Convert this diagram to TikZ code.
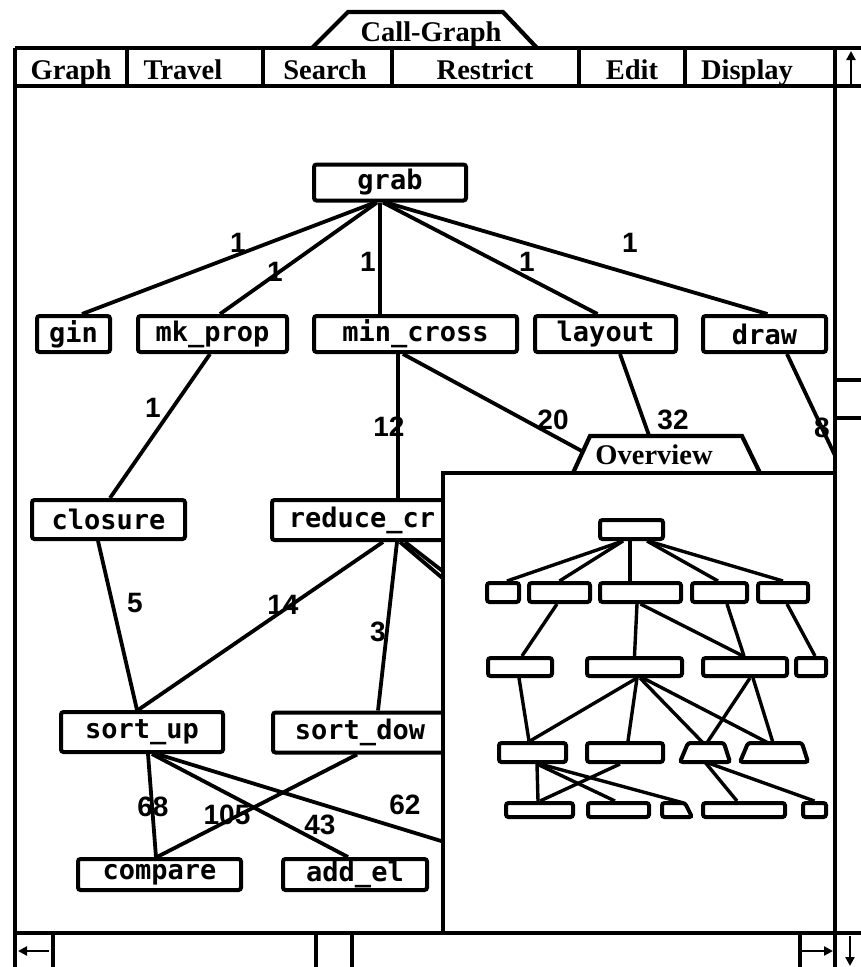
\documentclass[tikz,border=0pt]{standalone}
\usepackage{fontspec}
\setmainfont{Liberation Serif}
\newfontfamily\fnfont{DejaVu Sans Mono}
\newfontfamily\numfont{Liberation Sans}
\usetikzlibrary{arrows.meta}

\begin{document}
\begin{tikzpicture}[x=1pt,y=-1pt,
  frame/.style={line width=4.2pt},
  menutext/.style={anchor=base,inner sep=0pt,font=\bfseries\fontsize{28.5pt}{30pt}\selectfont},
  fn/.style={draw,fill=white,line width=4pt,rounded corners=2.5pt,inner sep=0pt,
    minimum height=36pt,font=\fnfont\bfseries\fontsize{27pt}{29pt}\selectfont},
  cnt/.style={inner sep=0pt,font=\numfont\bfseries\fontsize{28pt}{30pt}\selectfont},
  call/.style={line width=3.8pt},
  mini/.style={draw,fill=white,line width=4pt,rounded corners=2.5pt,inner sep=0pt,minimum height=19pt},
  minislot/.style={inner sep=0pt,minimum height=19pt},
  minishape/.style={draw,fill=white,line width=4pt,rounded corners=2.5pt},
  minicall/.style={line width=3.4pt}]

\useasboundingbox (0,0) rectangle (861,967);
\fill[white] (0,0) rectangle (861,967);

% ---------------- call graph (clipped to the window) ----------------
\begin{scope}
\clip (15,86) rectangle (835,933);

\node[fn,minimum width=152pt] (grab) at (390,182.5) {grab};

\node[fn,minimum width=73pt]  (gin)      at (73.5,334)  {gin};
\node[fn,minimum width=149pt] (mkprop)   at (212.5,334) {mk\_prop};
\node[fn,minimum width=203pt] (mincross) at (415.5,334) {min\_cross};
\node[fn,minimum width=141pt] (layout)   at (605.5,334) {layout};
\node[fn,minimum width=123pt] (drawfn)   at (764.5,334) {draw};

\node[fn,minimum width=153pt,minimum height=39pt] (closure)  at (108.5,519.5) {closure};
\node[fn,minimum width=180pt,minimum height=40pt] (reducecr) at (362,520) {reduce\_cr};

\node[fn,minimum width=162pt,minimum height=40pt] (sortup)  at (142,732) {sort\_up};
\node[fn,minimum width=174pt,minimum height=40pt] (sortdow) at (360,732.5) {sort\_dow};

\node[fn,minimum width=163pt,minimum height=31pt] (compare) at (159.5,874.5) {compare};
\node[fn,minimum width=144pt,minimum height=31pt] (addel)   at (355,874.5) {add\_el};

% callees lying under the overview window
\coordinate (hidC) at (672,500);
\coordinate (hidD) at (856,500);
\coordinate (hidE) at (600,712);
\coordinate (hidF) at (625,712);
\coordinate (hidG) at (500,859);

\draw[call] ([xshift=-15pt]grab.south) -- ([xshift=8.5pt]gin.north);
\draw[call] ([xshift=-13pt]grab.south) -- ([xshift=7.5pt]mkprop.north);
\draw[call] ([xshift=-10pt]grab.south) -- ([xshift=-35.5pt]mincross.north);
\draw[call] ([xshift=-7pt]grab.south)  -- ([xshift=-8pt]layout.north);
\draw[call] ([xshift=-4pt]grab.south)  -- ([xshift=3pt]drawfn.north);

\draw[call] ([xshift=-2.5pt]mkprop.south) -- ([xshift=1.5pt]closure.north);
\draw[call] ([xshift=-17.5pt]mincross.south) -- ([xshift=36pt]reducecr.north);
\draw[call] ([xshift=-12.5pt]mincross.south) -- (hidC);
\draw[call] ([xshift=14.5pt]layout.south) -- (hidC);
\draw[call] ([xshift=22.5pt]drawfn.south) -- (hidD);

\draw[call] ([xshift=-10.5pt]closure.south) -- ([xshift=-5pt]sortup.north);
\draw[call] ([xshift=21pt]reducecr.south) -- ([xshift=-4pt]sortup.north);
\draw[call] ([xshift=35pt]reducecr.south) -- ([xshift=18pt]sortdow.north);
\draw[call] ([xshift=38pt]reducecr.south) -- (hidE);
\draw[call] ([xshift=43pt]reducecr.south) -- (hidF);

\draw[call] ([xshift=6pt]sortup.south)  -- ([xshift=-3.5pt]compare.north);
\draw[call] ([xshift=10pt]sortup.south) -- ([xshift=-7pt]addel.north);
\draw[call] ([xshift=15pt]sortup.south) -- (hidG);
\draw[call] ([xshift=-3pt]sortdow.south) -- ([xshift=-2.5pt]compare.north);

% call counts
\node[cnt] (n1) at (238,243) {1};
\node[cnt] (n2) at (275,272) {1};
\node[cnt] (n3) at (368,262) {1};
\node[cnt] (n4) at (527,262) {1};
\node[cnt] (n5) at (630,243) {1};
\node[cnt] (n6) at (153,408) {1};
\node[cnt] (n7) at (389,427) {12};
\node[cnt] (n8) at (553,420) {20};
\node[cnt] (n9) at (673,420) {32};
\node[cnt] (n10) at (822,428) {8};
\node[cnt] (n11) at (135,603) {5};
\node[cnt] (n12) at (283,605) {14};
\node[cnt] (n13) at (378,632) {3};
\node[cnt] (n14) at (153,807) {68};
\node[cnt] (n15) at (227,815) {105};
\node[cnt] (n16) at (320,825) {43};
\node[cnt] (n17) at (405,805) {62};
\end{scope}

% ---------------- overview window ----------------
\draw[frame,fill=white] (573,473) -- (590,436) -- (742,436) -- (760,473);
\node[anchor=base,inner sep=0pt,font=\bfseries\fontsize{28.5pt}{30pt}\selectfont] (ovtitle) at (654,464) {Overview};
\draw[frame,fill=white] (443,473) rectangle (835,933);

\node[mini,minimum width=63pt] (o0) at (631.5,529.5) {};

\node[mini,minimum width=32pt] (ob1) at (503,592.5) {};
\node[mini,minimum width=61pt] (ob2) at (559.5,592.5) {};
\node[mini,minimum width=81pt] (ob3) at (640.5,592.5) {};
\node[mini,minimum width=55pt] (ob4) at (719.5,592.5) {};
\node[mini,minimum width=50pt] (ob5) at (783,592.5) {};

\node[mini,minimum width=64pt,minimum height=18pt] (oc1) at (520,667) {};
\node[mini,minimum width=95pt,minimum height=18pt] (oc2) at (634.5,667) {};
\node[mini,minimum width=84pt,minimum height=18pt] (oc3) at (745,667) {};
\node[mini,minimum width=30pt,minimum height=18pt] (oc4) at (811,667) {};

\node[mini,minimum width=67pt] (od1) at (532.5,752.5) {};
\node[mini,minimum width=76pt] (od2) at (625,752.5) {};
% sloped boxes: outline drawn as a path, node kept as the anchor frame
\draw[minishape] (680,762) -- (688,743) -- (724,743) -- (730,762) -- cycle;
\node[minislot,minimum width=50pt] (od3) at (705,752.5) {};
\draw[minishape] (740,762) -- (748,743) -- (802,743) -- (808,762) -- cycle;
\node[minislot,minimum width=68pt] (od4) at (774,752.5) {};

\node[mini,minimum width=67pt,minimum height=14pt] (oe1) at (539.5,810) {};
\node[mini,minimum width=61pt,minimum height=14pt] (oe2) at (618.5,810) {};
\draw[minishape] (662,817) -- (662,803) -- (685,803) -- (692,817) -- cycle;
\node[minislot,minimum width=30pt,minimum height=14pt] (oe3) at (677,810) {};
\node[mini,minimum width=82pt,minimum height=14pt] (oe4) at (744,810) {};
\node[mini,minimum width=23pt,minimum height=14pt] (oe5) at (814.5,810) {};

\draw[minicall] ([xshift=-8.5pt]o0.south) -- ([xshift=4pt]ob1.north);
\draw[minicall] ([xshift=-8.5pt]o0.south) -- (ob2.north);
\draw[minicall] ([xshift=-1.5pt]o0.south) -- ([xshift=-10.5pt]ob3.north);
\draw[minicall] ([xshift=15.5pt]o0.south) -- ([xshift=-1.5pt]ob4.north);
\draw[minicall] ([xshift=16.5pt]o0.south) -- (ob5.north);

\draw[minicall] ([xshift=-2.5pt]ob2.south) -- ([xshift=2pt]oc1.north);
\draw[minicall] ([xshift=-3.5pt]ob3.south) -- (oc2.north);
\draw[minicall] (ob3.south) -- ([xshift=-2pt]oc3.north);
\draw[minicall] ([xshift=7.5pt]ob4.south) -- ([xshift=-1pt]oc3.north);
\draw[minicall] ([xshift=4pt]ob5.south) -- ([xshift=4pt]oc4.north);

\draw[minicall] ([xshift=-1pt]oc1.south) -- ([xshift=-3.5pt]od1.north);
\draw[minicall] ([xshift=2.5pt]oc2.south) -- ([xshift=-2.5pt]od1.north);
\draw[minicall] ([xshift=2.5pt]oc2.south) -- ([xshift=3pt]od2.north);
\draw[minicall] ([xshift=5.5pt]oc2.south) -- ([xshift=-2pt]od3.north);
\draw[minicall] ([xshift=8.5pt]oc2.south) -- ([xshift=-6pt]od4.north);
\draw[minicall] ([xshift=5pt]oc3.south) -- ([xshift=2pt]od3.north);
\draw[minicall] ([xshift=8pt]oc3.south) -- ([xshift=-1pt]od4.north);

\draw[minicall] ([xshift=4.5pt]od1.south) -- ([xshift=-1.5pt]oe1.north);
\draw[minicall] ([xshift=4.5pt]od1.south) -- ([xshift=-3.5pt]oe2.north);
\draw[minicall] ([xshift=7.5pt]od1.south) -- ([xshift=6pt]oe3.north);
\draw[minicall] ([xshift=-5pt]od2.south) -- ([xshift=0.5pt]oe1.north);
\draw[minicall] (od3.south) -- ([xshift=-7pt]oe4.north);
\draw[minicall] ([xshift=1pt]od3.south) -- (oe5.north);

% ---------------- window frame, title tab and menu ----------------
\draw[frame,fill=white] (312,48) -- (348,12) -- (503,12) -- (537,48);
\node[menutext] (title) at (431,41) {Call-Graph};

\draw[frame] (15,48) -- (861,48);
\draw[frame] (15,86) -- (861,86);
\draw[frame] (15,48) -- (15,967);
\draw[frame] (835,48) -- (835,967);
\foreach \x in {127,263,392,579,685} \draw[frame] (\x,48) -- (\x,86);

\node[menutext] (mGraph)    at (71,79)  {Graph};
\node[menutext] (mTravel)   at (183,79) {Travel};
\node[menutext] (mSearch)   at (325,79) {Search};
\node[menutext] (mRestrict) at (485,79) {Restrict};
\node[menutext] (mEdit)     at (632,79) {Edit};
\node[menutext] (mDisplay)  at (747,79) {Display};

% vertical scroll bar
\draw[line width=2.8pt,-{Triangle[length=9pt,width=9pt]}] (851,84) -- (851,51);
\draw[frame] (835,380) -- (861,380);
\draw[frame] (835,418) -- (861,418);

% horizontal scroll bar
\draw[frame] (15,933) -- (861,933);
\foreach \x in {53,316,352,800} \draw[frame] (\x,933) -- (\x,967);
\draw[line width=2.8pt,-{Triangle[length=9pt,width=9pt]}] (49,951) -- (18,951);
\draw[line width=2.8pt,-{Triangle[length=9pt,width=9pt]}] (802,951) -- (833,951);
\draw[line width=2.8pt,-{Triangle[length=9pt,width=9pt]}] (850,936) -- (850,966);
\end{tikzpicture}
\end{document}
